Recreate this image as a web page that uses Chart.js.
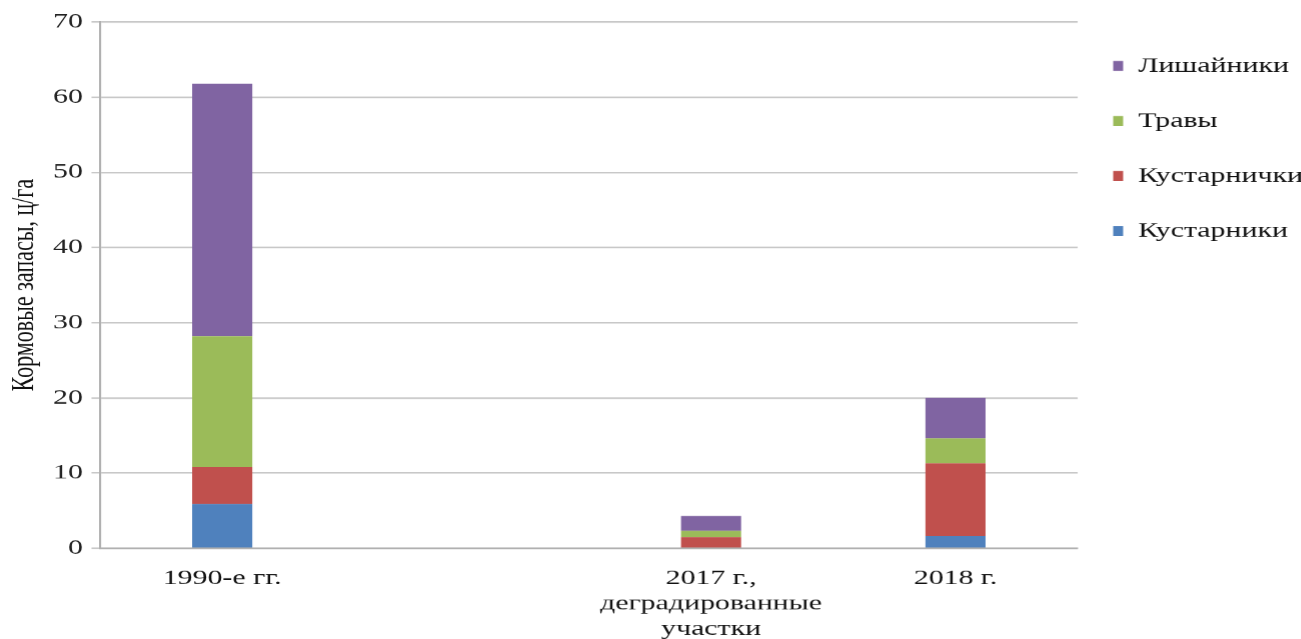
<!DOCTYPE html>
<html>
<head>
<meta charset="utf-8">
<script src="https://cdn.jsdelivr.net/npm/chart.js@4"></script>
<style>
  html, body { margin: 0; padding: 0; background: #fff; overflow: hidden; }
  /* the reference picture is stretched sideways, so the canvas is too */
  #chart { transform: scaleX(1.42); transform-origin: 0 0; display: block; }
</style>
</head>
<body>
<canvas id="chart" width="916" height="639"></canvas>
<script>
const categories = ['1990-е гг.', '', ['2017 г.,', 'деградированные', 'участки'], '2018 г.']
const shrubs = [5.9, null, 0, 1.6]        // Кустарники
const dwarfShrubs = [4.9, null, 1.5, 9.7] // Кустарнички
const grasses = [17.4, null, 0.8, 3.3]    // Травы
const lichens = [33.6, null, 2.0, 5.4]    // Лишайники
const yTicks = [0, 10, 20, 30, 40, 50, 60, 70]

const font = { family: "'Liberation Serif', 'Times New Roman', serif", size: 21 }

const makeSet = (label, data, color) => ({
  label: label,
  data: data,
  backgroundColor: color,
  borderWidth: 0,
  categoryPercentage: 0.246,
  barPercentage: 1
})

new Chart(document.getElementById('chart'), {
  type: 'bar',
  data: {
    labels: categories,
    datasets: [
      makeSet('Кустарники', shrubs, '#4f81bd'),
      makeSet('Кустарнички', dwarfShrubs, '#c0504d'),
      makeSet('Травы', grasses, '#9bbb59'),
      makeSet('Лишайники', lichens, '#8064a2')
    ]
  },
  options: {
    responsive: false,
    animation: false,
    devicePixelRatio: 1.42,
    layout: { padding: { top: 22, right: 0, bottom: 0, left: 0 } },
    plugins: {
      tooltip: { enabled: false },
      legend: {
        position: 'right',
        align: 'start',
        fullSize: false,
        reverse: true,
        maxWidth: 157.5,
        // empty title only pushes the first item down
        title: { display: true, text: '', padding: { top: 8, bottom: 0 }, font: { size: 1, lineHeight: 0.5 } },
        labels: {
          font: { ...font, lineHeight: 30 / 21 },
          color: '#111',
          boxWidth: 7,
          boxHeight: 10,
          padding: 25,
          generateLabels: chart => Chart.defaults.plugins.legend.labels.generateLabels(chart)
            .map(l => ({ ...l, text: [l.text] }))
        }
      }
    },
    scales: {
      x: {
        stacked: true,
        grid: { display: false, drawTicks: false },
        border: { display: true, color: '#b0b0b0', width: 1.5 },
        ticks: { font: font, color: '#111', padding: 18, maxRotation: 0, autoSkip: false },
        afterFit: s => { s.height = 91 }
      },
      y: {
        stacked: true,
        min: 0,
        max: 70,
        afterBuildTicks: s => { s.ticks = yTicks.map(v => ({ value: v })) },
        grid: { color: '#c8c8c8', lineWidth: 1.5, tickLength: 6 },
        border: { display: true, color: '#b0b0b0', width: 1.5 },
        ticks: { font: font, color: '#222', padding: 6 },
        title: {
          display: true,
          text: 'Кормовые запасы, ц/га',
          font: { ...font, size: 22 },
          color: '#111',
          padding: { top: 4.4, bottom: 0 }
        },
        afterFit: s => { s.width = 70.4 }
      }
    }
  }
})
</script>
</body>
</html>
